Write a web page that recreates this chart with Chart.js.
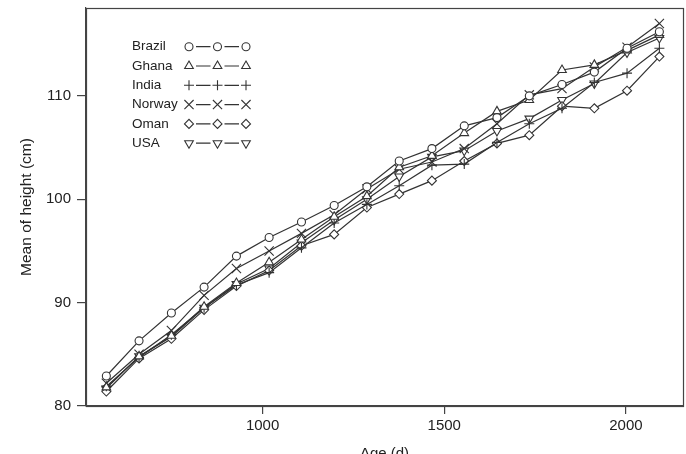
<!DOCTYPE html>
<html>
<head>
<meta charset="utf-8">
<script src="https://cdn.jsdelivr.net/npm/chart.js@4/dist/chart.umd.min.js"></script>
<style>
  html, body { margin: 0; padding: 0; background: #ffffff; }
  #wrap { width: 686px; height: 454px; }
</style>
</head>
<body>
<div id="wrap"><canvas id="c" width="686" height="454"></canvas></div>
<script>
// Age in days (x values)
const ages   = [570, 660, 749, 839, 928, 1018, 1107, 1197, 1287, 1376, 1466, 1555, 1645, 1734, 1824, 1913, 2003, 2092];
// Mean height (cm) per country
const brazil = [82.9, 86.3, 89.0, 91.5, 94.5, 96.3, 97.8, 99.4, 101.2, 103.7, 104.9, 107.1, 107.9, 110.0, 111.1, 112.3, 114.6, 116.2];
const ghana  = [81.8, 84.8, 86.8, 89.6, 91.9, 93.9, 96.1, 98.3, 100.3, 103.1, 104.2, 106.4, 108.5, 109.6, 112.5, 113.0, 114.4, 115.9];
const india  = [81.9, 84.7, 86.9, 89.5, 91.7, 92.9, 95.3, 97.7, 99.5, 101.3, 103.3, 103.4, 105.5, 107.3, 108.8, 111.3, 112.2, 114.6];
const norway = [82.2, 85.0, 87.3, 90.7, 93.3, 95.0, 96.7, 98.5, 101.0, 102.9, 103.6, 104.9, 107.3, 110.1, 110.7, 112.8, 114.7, 117.0];
const oman   = [81.4, 84.6, 86.5, 89.3, 91.6, 93.1, 95.5, 96.6, 99.2, 100.5, 101.8, 103.7, 105.4, 106.2, 109.0, 108.8, 110.5, 113.8];
const usa    = [81.7, 84.8, 86.7, 89.5, 91.8, 93.3, 95.8, 98.0, 100.0, 102.2, 104.1, 104.7, 106.6, 107.8, 109.6, 111.2, 114.2, 115.6];

const countries = ['Brazil', 'Ghana', 'India', 'Norway', 'Oman', 'USA'];
const seriesList = [brazil, ghana, india, norway, oman, usa];
const xTicks = [1000, 1500, 2000];
const yTicks = [80, 90, 100, 110];

const markerStyles = [
  { style: 'circle',   radius: 4,   rotation: 0 },
  { style: 'triangle', radius: 5,   rotation: 0 },
  { style: 'cross',    radius: 5,   rotation: 0 },
  { style: 'crossRot', radius: 6.5, rotation: 0 },
  { style: 'rectRot',  radius: 4.5, rotation: 0 },
  { style: 'triangle', radius: 5,   rotation: 180 }
];

const INK = '#333333';
const FONT = "'Liberation Sans', Arial, Helvetica, sans-serif";

const datasets = countries.map((name, i) => ({
  label: name,
  data: ages.map((a, k) => ({ x: a, y: seriesList[i][k] })),
  borderColor: INK,
  borderWidth: 1.2,
  backgroundColor: '#ffffff',
  pointStyle: markerStyles[i].style,
  pointRadius: markerStyles[i].radius,
  pointRotation: markerStyles[i].rotation,
  pointBorderColor: INK,
  pointBackgroundColor: '#ffffff',
  pointBorderWidth: 1.1,
  pointHoverRadius: markerStyles[i].radius,
  tension: 0,
  fill: false
}));

function drawMarker(ctx, style, r, rot, x, y) {
  ctx.save();
  ctx.translate(x, y);
  ctx.rotate(rot * Math.PI / 180);
  ctx.beginPath();
  if (style === 'circle') {
    ctx.arc(0, 0, r, 0, Math.PI * 2);
    ctx.fill(); ctx.stroke();
  } else if (style === 'triangle') {
    for (let k = 0; k < 3; k++) {
      const a = k * 2 * Math.PI / 3;
      const px = Math.sin(a) * r, py = -Math.cos(a) * r;
      if (k === 0) ctx.moveTo(px, py); else ctx.lineTo(px, py);
    }
    ctx.closePath(); ctx.fill(); ctx.stroke();
  } else if (style === 'cross') {
    ctx.moveTo(-r, 0); ctx.lineTo(r, 0);
    ctx.moveTo(0, -r); ctx.lineTo(0, r);
    ctx.stroke();
  } else if (style === 'crossRot') {
    const d = r * Math.SQRT1_2;
    ctx.moveTo(-d, -d); ctx.lineTo(d, d);
    ctx.moveTo(-d, d); ctx.lineTo(d, -d);
    ctx.stroke();
  } else if (style === 'rectRot') {
    ctx.moveTo(-r, 0); ctx.lineTo(0, -r); ctx.lineTo(r, 0); ctx.lineTo(0, r);
    ctx.closePath(); ctx.fill(); ctx.stroke();
  }
  ctx.restore();
}

const legendPlugin = {
  id: 'customLegend',
  afterDraw(chart) {
    const ctx = chart.ctx;
    ctx.save();
    ctx.font = '13.5px ' + FONT;
    ctx.textBaseline = 'middle';
    ctx.textAlign = 'left';
    const x0 = 132, y0 = 46.7, dy = 19.3;
    const mx = [189, 217.5, 246];
    countries.forEach((name, i) => {
      const y = y0 + dy * i;
      ctx.fillStyle = '#222';
      ctx.fillText(name, x0, y);
      ctx.strokeStyle = INK;
      ctx.lineWidth = 1.2;
      ctx.beginPath();
      for (let j = 0; j < 2; j++) {
        ctx.moveTo(mx[j] + 7, y);
        ctx.lineTo(mx[j + 1] - 7, y);
      }
      ctx.stroke();
      ctx.fillStyle = '#fff';
      ctx.lineWidth = 1.1;
      mx.forEach(cx => drawMarker(ctx, markerStyles[i].style, markerStyles[i].radius, markerStyles[i].rotation, cx, y));
    });
    ctx.restore();
  }
};

const framePlugin = {
  id: 'frame',
  afterDraw(chart) {
    const { ctx, chartArea: a } = chart;
    ctx.save();
    ctx.strokeStyle = '#444';
    ctx.lineWidth = 1.2;
    ctx.strokeRect(Math.round(a.left) + 0.5, Math.round(a.top) + 0.5,
                   Math.round(a.right - a.left), Math.round(a.bottom - a.top));
    ctx.restore();
  }
};

new Chart(document.getElementById('c'), {
  type: 'line',
  data: { datasets },
  options: {
    responsive: false,
    animation: false,
    devicePixelRatio: 1,
    layout: { autoPadding: false, padding: { top: 8, right: 3, left: 0, bottom: 0 } },
    plugins: {
      legend: { display: false },
      tooltip: { enabled: false },
      title: { display: false }
    },
    scales: {
      x: {
        type: 'linear',
        position: 'bottom',
        min: 514,
        max: 2157,
        afterBuildTicks(scale) { scale.ticks = xTicks.map(v => ({ value: v })); },
        afterFit(scale) { scale.height = 48; scale.paddingLeft = 0; scale.paddingRight = 0; },
        grid: { display: true, drawOnChartArea: false, drawTicks: true, tickLength: 8, color: '#444', lineWidth: 1.2 },
        border: { display: true, color: '#444', width: 1.2 },
        ticks: { color: '#222', font: { family: FONT, size: 15 }, padding: 3, maxRotation: 0, autoSkip: false,
                 callback: v => String(v) },
        title: { display: true, text: 'Age (d)', color: '#222', font: { family: FONT, size: 15 },
                 padding: { top: 0, bottom: -9 } }
      },
      y: {
        type: 'linear',
        position: 'left',
        min: 80,
        max: 118.5,
        afterBuildTicks(scale) { scale.ticks = yTicks.map(v => ({ value: v })); },
        afterFit(scale) { scale.width = 86; scale.paddingTop = 0; scale.paddingBottom = 0; },
        grid: { display: true, drawOnChartArea: false, drawTicks: true, tickLength: 9, color: '#444', lineWidth: 1.2 },
        border: { display: true, color: '#444', width: 1.2 },
        ticks: { color: '#222', font: { family: FONT, size: 15 }, padding: 6, autoSkip: false,
                 callback: v => String(v) },
        title: { display: true, text: 'Mean of height (cm)', color: '#222', font: { family: FONT, size: 15.5 },
                 padding: { top: 17.5, bottom: 0 } }
      }
    }
  },
  plugins: [legendPlugin, framePlugin]
});
</script>
</body>
</html>
